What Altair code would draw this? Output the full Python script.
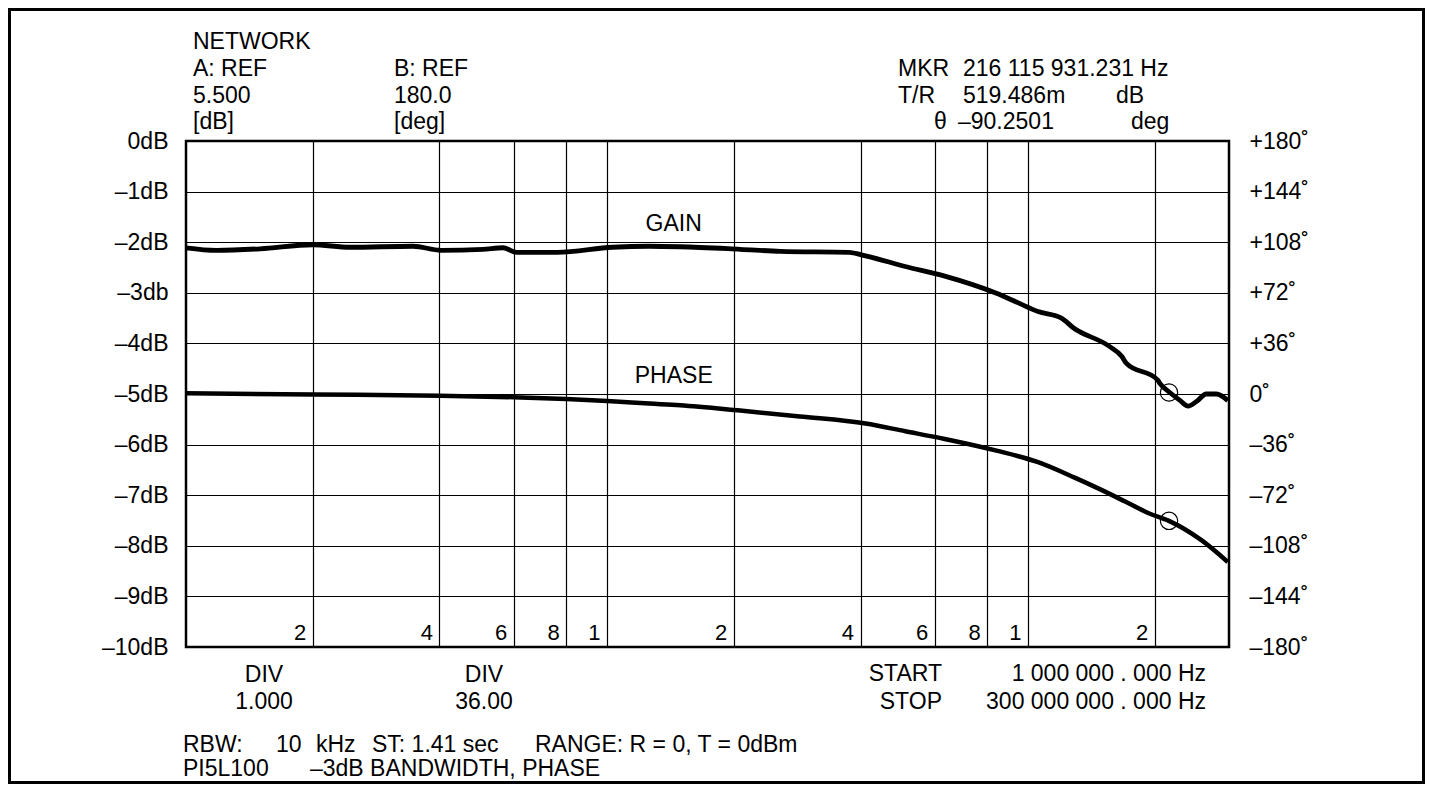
import altair as alt
import pandas as pd

# ---------------- data ----------------
gain_freq_mhz = [1.00, 1.18, 1.50, 2.00, 2.45, 3.46, 4.03, 5.07, 5.66, 6.10, 7.61,
                 10.3, 12.6, 14.9, 20.7, 25.8, 37.5, 41.1, 51.1, 63.4, 84.1, 94.8,
                 105.6, 120, 128, 156, 167, 171, 203, 206, 217, 229, 240, 251,
                 265, 280, 298]
gain_db = [-2.11, -2.16, -2.13, -2.05, -2.10, -2.08, -2.16, -2.14, -2.11, -2.20, -2.20,
           -2.10, -2.08, -2.09, -2.14, -2.18, -2.20, -2.27, -2.48, -2.67, -3.01, -3.20,
           -3.37, -3.50, -3.69, -4.06, -4.26, -4.39, -4.72, -4.80, -4.97, -5.12, -5.24, -5.15,
           -5.00, -5.00, -5.13]

phase_freq_mhz = [1.00, 2.00, 4.00, 6.00, 8.00, 10.0, 12.6, 14.9, 20.7, 28.7, 41.1,
                  51.1, 63.4, 84.1, 105.6, 129, 148, 170, 194, 216, 258, 298]
phase_deg = [0.5, -0.3, -1.2, -2.3, -3.6, -5.0, -6.8, -8.0, -11.8, -16.0, -21.0,
             -26.5, -32.0, -40.3, -48.5, -59.5, -67.7, -76.5, -85.0, -90.25, -104.0, -119.5]

marker_freq_mhz = [216.115931231]
marker_gain_db = [-4.97]
marker_phase_deg = [-90.25]

freq_tick_values = [2, 4, 6, 8, 10, 20, 40, 60, 80, 100, 200]
freq_tick_labels = ["2", "4", "6", "8", "1", "2", "4", "6", "8", "1", "2"]
gain_tick_values = [0, -1, -2, -3, -4, -5, -6, -7, -8, -9, -10]
gain_tick_labels = ["0dB", "–1dB", "–2dB", "–3db", "–4dB", "–5dB", "–6dB",
                    "–7dB", "–8dB", "–9dB", "–10dB"]
phase_tick_values = [180, 144, 108, 72, 36, 0, -36, -72, -108, -144, -180]
phase_tick_labels = ["+180˚", "+144˚", "+108˚", "+72˚", "+36˚", "0˚", "–36˚",
                     "–72˚", "–108˚", "–144˚", "–180˚"]

# ---------------- layout ----------------
FONT = "Liberation Sans"
FS = 23
PW, PH = 1043, 506
PAD_L, PAD_T = 178, 133
PAD_R = 1417 - PAD_L - PW
PAD_B = 776 - PAD_T - PH


def label_expr(values, labels):
    expr = "''"
    for v, l in reversed(list(zip(values, labels))):
        expr = f"(abs(datum.value - ({v})) < 1e-6) ? '{l}' : ({expr})"
    return expr


gain_df = pd.DataFrame({"freq": gain_freq_mhz, "val": gain_db})
phase_df = pd.DataFrame({"freq": phase_freq_mhz, "val": phase_deg})
mk_gain_df = pd.DataFrame({"freq": marker_freq_mhz, "val": marker_gain_db})
mk_phase_df = pd.DataFrame({"freq": marker_freq_mhz, "val": marker_phase_deg})
one = pd.DataFrame({"k": [0]})

x_scale = alt.Scale(type="log", domain=[1, 300], nice=False)
x_axis = alt.Axis(values=freq_tick_values, labelExpr=label_expr(freq_tick_values, freq_tick_labels),
                  grid=True, ticks=False, tickSize=0, domain=False, labelPadding=-25,
                  labelBaseline="top", labelAlign="right", labelOffset=-7,
                  labelOverlap=False, labelFlush=False, labelFontSize=22, title=None)
x_enc = alt.X("freq:Q", scale=x_scale, axis=x_axis)

gain_y = alt.Y("val:Q", scale=alt.Scale(domain=[-10, 0], nice=False, zero=False),
               axis=alt.Axis(orient="left", values=gain_tick_values,
                             labelExpr=label_expr(gain_tick_values, gain_tick_labels),
                             grid=True, ticks=False, tickSize=0, domain=False,
                             labelPadding=18, labelOverlap=False, labelFlush=False, title=None))
phase_y = alt.Y("val:Q", scale=alt.Scale(domain=[-180, 180], nice=False, zero=False),
                axis=alt.Axis(orient="right", values=phase_tick_values,
                              labelExpr=label_expr(phase_tick_values, phase_tick_labels),
                              grid=False, ticks=False, tickSize=0, domain=False,
                              labelPadding=20, labelOverlap=False, labelFlush=False, title=None))

gain_line = alt.Chart(gain_df).mark_line(color="black", strokeWidth=4.8, interpolate="monotone").encode(
    x=x_enc, y=gain_y)
gain_mk = alt.Chart(mk_gain_df).mark_point(shape="circle", filled=False, size=300,
                                            color="black", strokeWidth=1.2, opacity=1).encode(
    x=alt.X("freq:Q", scale=x_scale), y=alt.Y("val:Q"))
gain_lbl = alt.Chart(one).mark_text(text="GAIN", font=FONT, fontSize=FS, color="black",
                                    align="center", baseline="middle").encode(
    x=alt.datum(14.4), y=alt.datum(-1.64))
gain_layer = alt.layer(gain_line, gain_mk, gain_lbl)

phase_line = alt.Chart(phase_df).mark_line(color="black", strokeWidth=4.5, interpolate="monotone").encode(
    x=x_enc, y=phase_y)
phase_mk = alt.Chart(mk_phase_df).mark_point(shape="circle", filled=False, size=300,
                                              color="black", strokeWidth=1.2, opacity=1).encode(
    x=alt.X("freq:Q", scale=x_scale), y=alt.Y("val:Q"))
phase_lbl = alt.Chart(one).mark_text(text="PHASE", font=FONT, fontSize=FS, color="black",
                                     align="center", baseline="middle").encode(
    x=alt.datum(14.4), y=alt.datum(12.8))
phase_layer = alt.layer(phase_line, phase_mk, phase_lbl)


# page coordinates -> plot coordinates (plot origin at page (186,141))
def T(s, px, py, align="left"):
    return alt.Chart(one).mark_text(text=s, font=FONT, fontSize=FS, color="black",
                                    align=align, baseline="middle").encode(
        x=alt.value(px - 186), y=alt.value(py - 141))


notes = [
    T("NETWORK", 193, 42), T("A: REF", 193, 69), T("5.500", 193, 96), T("[dB]", 193, 122),
    T("B: REF", 394, 69), T("180.0", 394, 96), T("[deg]", 394, 122),
    T("MKR", 898, 69), T("216 115 931.231 Hz", 963, 69),
    T("T/R", 898, 96), T("519.486m", 963, 96), T("dB", 1116, 96),
    T("θ", 934, 122), T("–90.2501", 958, 122), T("deg", 1131, 122),
    T("DIV", 264, 675, "center"), T("1.000", 264, 702, "center"),
    T("DIV", 484, 675, "center"), T("36.00", 484, 702, "center"),
    T("START", 942, 674, "right"), T("STOP", 942, 702, "right"),
    T("1 000 000 . 000 Hz", 1206, 674, "right"), T("300 000 000 . 000 Hz", 1206, 702, "right"),
    T("RBW:", 183, 745), T("10", 276, 745), T("kHz", 316, 745),
    T("ST: 1.41 sec", 372, 745), T("RANGE: R = 0, T = 0dBm", 535, 745),
    T("PI5L100", 183, 769), T("–3dB BANDWIDTH, PHASE", 310, 769),
]

frame = alt.Chart(one).mark_rect(filled=False, stroke="black", strokeWidth=3).encode(
    x=alt.value(1.5 - PAD_L), x2=alt.value(1415.5 - PAD_L),
    y=alt.value(1.5 - PAD_T), y2=alt.value(774.5 - PAD_T))

chart = alt.layer(gain_layer, phase_layer, frame, *notes).resolve_scale(y="independent").properties(
    width=PW, height=PH,
    autosize=alt.AutoSizeParams(type="none"),
    padding={"left": PAD_L, "top": PAD_T, "right": PAD_R, "bottom": PAD_B},
    background="white",
).configure_view(stroke="black", strokeWidth=2.5).configure_axis(
    labelFont=FONT, labelFontSize=FS, labelColor="black",
    gridColor="black", gridWidth=1.2, gridOpacity=1,
)

chart.save("out.html", embed_options={"renderer": "svg", "actions": False})
